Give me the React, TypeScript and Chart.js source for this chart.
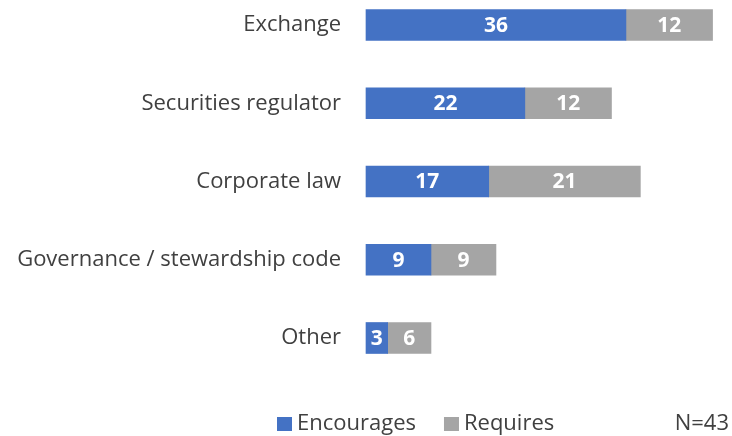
import React, { useEffect, useRef } from "react";
import { Chart, registerables } from "chart.js";

Chart.register(...registerables);

const categories = [
  "Exchange",
  "Securities regulator",
  "Corporate law",
  "Governance / stewardship code",
  "Other",
];
const encourages = [36, 22, 17, 9, 3];
const requires = [12, 12, 21, 9, 6];
const seriesNames = ["Encourages", "Requires"];
const seriesColors = ["#4472C4", "#A5A5A5"];
const note = "N=43";
const xMax = 50;

const FONT = "'Open Sans', 'Noto Sans', sans-serif";
const TEXT = "#404040";

const valueLabels = {
  id: "valueLabels",
  afterDatasetsDraw(chart: any) {
    const ctx = chart.ctx;
    ctx.save();
    ctx.fillStyle = "#ffffff";
    ctx.font = `bold 21px ${FONT}`;
    ctx.textAlign = "center";
    ctx.textBaseline = "middle";
    chart.data.datasets.forEach((ds: any, di: number) => {
      const meta = chart.getDatasetMeta(di);
      meta.data.forEach((bar: any, i: number) => {
        const v = ds.data[i];
        const cx = (bar.x + bar.base) / 2;
        ctx.fillText(String(v), cx, bar.y + 1);
      });
    });
    ctx.restore();
  },
};

const customLegend = {
  id: "customLegend",
  afterDraw(chart: any) {
    const ctx = chart.ctx;
    ctx.save();
    ctx.font = `22px ${FONT}`;
    ctx.textBaseline = "middle";
    ctx.textAlign = "left";
    const cy = 424;
    let x = 277;
    chart.data.datasets.forEach((ds: any) => {
      ctx.fillStyle = ds.backgroundColor;
      ctx.fillRect(x, cy - 7, 15, 14);
      x += 20;
      ctx.fillStyle = TEXT;
      ctx.fillText(ds.label, x, cy);
      x += ctx.measureText(ds.label).width + 28;
    });
    ctx.textAlign = "right";
    ctx.fillStyle = TEXT;
    ctx.fillText(note, 729, cy);
    ctx.restore();
  },
};

export default function App() {
  const ref = useRef<HTMLCanvasElement | null>(null);
  useEffect(() => {
    if (!ref.current) return;
    const chart = new Chart(ref.current, {
      type: "bar",
      data: {
        labels: categories,
        datasets: [
          {
            label: seriesNames[0],
            data: encourages,
            backgroundColor: seriesColors[0],
            barThickness: 31,
            clip: false,
          },
          {
            label: seriesNames[1],
            data: requires,
            backgroundColor: seriesColors[1],
            barThickness: 31,
            clip: false,
          },
        ],
      },
      options: {
        indexAxis: "y",
        responsive: false,
        animation: false,
        layout: { padding: { top: 25, bottom: 98, left: 0, right: 5 } },
        plugins: {
          legend: { display: false },
          tooltip: { enabled: false },
        },
        scales: {
          x: {
            stacked: true,
            min: 0,
            max: xMax,
            display: false,
          },
          y: {
            stacked: true,
            offset: false,
            grid: { display: false, drawTicks: false },
            border: { display: false },
            ticks: {
              padding: 25,
              color: TEXT,
              font: { family: FONT, size: 22 },
            },
            afterFit: (scale: any) => {
              scale.width = 366;
              scale.paddingTop = 0;
              scale.paddingBottom = 0;
            },
          },
        },
      },
      plugins: [valueLabels, customLegend],
    });
    return () => chart.destroy();
  }, []);
  return (
    <div style={{ position: "fixed", left: 0, top: 0, width: 732, height: 436, background: "#fff" }}>
      <canvas ref={ref} width={732} height={436} />
    </div>
  );
}
